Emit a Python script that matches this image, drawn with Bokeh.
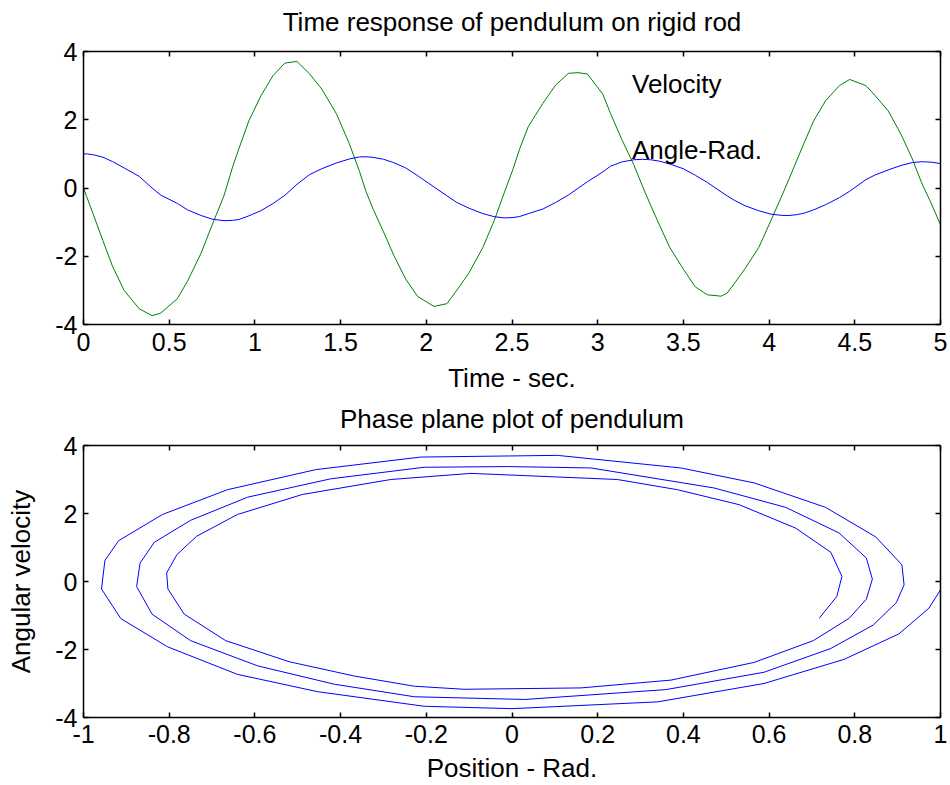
from bokeh.plotting import figure
from bokeh.layouts import column
from bokeh.models import Range1d, FixedTicker, LinearAxis, Label
from bokeh.embed import file_html
from bokeh.resources import INLINE

# ---- data (time, angle in rad, angular velocity) ----
time_s = [0.0, 0.018, 0.058, 0.113, 0.169, 0.237, 0.325, 0.40, 0.45, 0.548,
          0.607, 0.685, 0.75, 0.82, 0.87, 0.91, 0.965, 1.035, 1.105, 1.175,
          1.245, 1.32, 1.39, 1.475, 1.55, 1.61, 1.648, 1.69, 1.75, 1.81,
          1.88, 1.95, 2.045, 2.12, 2.175, 2.25, 2.33, 2.396, 2.454, 2.505,
          2.545, 2.595, 2.68, 2.755, 2.83, 2.885, 2.94, 3.03, 3.075, 3.14,
          3.21, 3.26, 3.31, 3.36, 3.42, 3.50, 3.57, 3.64, 3.72, 3.755,
          3.80, 3.86, 3.94, 4.01, 4.075, 4.115, 4.16, 4.205, 4.26, 4.33,
          4.41, 4.47, 4.565, 4.62, 4.695, 4.77, 4.835, 4.89, 4.945, 5.0]

angle_rad = [1.0, 1.0, 0.973, 0.903, 0.775, 0.588, 0.34, 0.0, -0.205, -0.454,
             -0.641, -0.804, -0.913, -0.958, -0.95, -0.918, -0.816, -0.664, -0.458, -0.213,
             0.106, 0.394, 0.565, 0.732, 0.849, 0.91, 0.915, 0.897, 0.843, 0.744,
             0.588, 0.359, 0.03, -0.228, -0.415, -0.594, -0.75, -0.84, -0.876, -0.868,
             -0.835, -0.75, -0.617, -0.423, -0.205, -0.01, 0.184, 0.472, 0.639, 0.763,
             0.827, 0.841, 0.827, 0.787, 0.703, 0.565, 0.371, 0.161, -0.112, -0.228,
             -0.368, -0.52, -0.668, -0.765, -0.803, -0.806, -0.782, -0.736, -0.641, -0.489,
             -0.283, -0.096, 0.246, 0.386, 0.53, 0.662, 0.744, 0.77, 0.758, 0.717]

velocity = [0.0, -0.245, -0.785, -1.54, -2.29, -3.0, -3.54, -3.74, -3.67, -3.24,
            -2.73, -1.92, -1.09, -0.22, 0.62, 1.2, 1.97, 2.7, 3.29, 3.66,
            3.71, 3.34, 2.9, 2.18, 1.31, 0.49, -0.1, -0.62, -1.28, -1.97,
            -2.67, -3.18, -3.47, -3.39, -3.02, -2.48, -1.74, -0.96, -0.15, 0.54,
            1.15, 1.8, 2.48, 3.02, 3.36, 3.38, 3.34, 2.75, 2.18, 1.43,
            0.69, 0.07, -0.52, -1.08, -1.74, -2.38, -2.9, -3.13, -3.17, -3.08,
            -2.78, -2.36, -1.74, -0.96, -0.22, 0.25, 0.79, 1.33, 1.97, 2.56,
            3.0, 3.18, 3.0, 2.7, 2.26, 1.57, 0.86, 0.15, -0.44, -1.08]

top_xticks = [0, 0.5, 1, 1.5, 2, 2.5, 3, 3.5, 4, 4.5, 5]
top_xlabels = ["0", "0.5", "1", "1.5", "2", "2.5", "3", "3.5", "4", "4.5", "5"]
bot_xticks = [-1, -0.8, -0.6, -0.4, -0.2, 0, 0.2, 0.4, 0.6, 0.8, 1]
bot_xlabels = ["-1", "-0.8", "-0.6", "-0.4", "-0.2", "0", "0.2", "0.4", "0.6", "0.8", "1"]
yticks = [-4, -2, 0, 2, 4]
ylabels = ["-4", "-2", "0", "2", "4"]

annotations = [("Velocity", 3.2, 3.05), ("Angle-Rad.", 3.2, 1.12)]

FONT = "Liberation Sans"
FS_TICK = "25px"
FS = "26px"


def style_axis(ax, ticks, labels=None, standoff=6):
    ax.ticker = FixedTicker(ticks=ticks)
    ax.major_tick_in = 5
    ax.major_tick_out = 0
    ax.minor_tick_line_color = None
    ax.axis_line_color = "black"
    ax.axis_line_width = 1.5
    ax.major_tick_line_color = "black"
    ax.major_tick_line_width = 1.5
    ax.axis_label_text_font = FONT
    ax.axis_label_text_font_size = FS
    ax.axis_label_text_font_style = "normal"
    ax.axis_label_text_color = "black"
    if labels is not None:
        ax.major_label_overrides = {t: l for t, l in zip(ticks, labels)}
        ax.major_label_text_font = FONT
        ax.major_label_text_font_size = FS_TICK
        ax.major_label_text_color = "black"
        ax.major_label_standoff = standoff
    else:
        ax.major_label_text_color = None
        ax.major_label_text_font_size = "1px"
        ax.major_label_standoff = 0


def make(xr, xticks, xlabels, title, title_standoff, top_border, frame_h,
         bottom_border, x_standoff):
    p = figure(frame_width=857, frame_height=frame_h,
               min_border_left=83, min_border_right=10,
               min_border_top=top_border, min_border_bottom=bottom_border,
               x_range=Range1d(*xr), y_range=Range1d(-4, 4),
               x_axis_location=None, y_axis_location=None,
               output_backend="svg", toolbar_location=None)
    p.xgrid.visible = False
    p.ygrid.visible = False
    p.outline_line_color = None
    p.background_fill_color = "white"
    p.border_fill_color = "white"

    bottom_ax = LinearAxis()
    style_axis(bottom_ax, xticks, xlabels, standoff=x_standoff)
    p.add_layout(bottom_ax, "below")
    left_ax = LinearAxis()
    style_axis(left_ax, yticks, ylabels)
    p.add_layout(left_ax, "left")
    # top axis of the box: ticks only, its label carries the plot title
    top_ax = LinearAxis(axis_label=title)
    style_axis(top_ax, xticks)
    top_ax.axis_label_standoff = title_standoff
    p.add_layout(top_ax, "above")
    right_ax = LinearAxis()
    style_axis(right_ax, yticks)
    p.add_layout(right_ax, "right")
    return p, bottom_ax, left_ax


p1, p1_bottom, p1_left = make((0, 5), top_xticks, top_xlabels,
                              "Time response of pendulum on rigid rod", 15,
                              51, 273, 71, 8)
p1_bottom.axis_label = "Time - sec."
p1_bottom.axis_label_standoff = 9
p1.line(time_s, velocity, line_color="#008000", line_width=1)
p1.line(time_s, angle_rad, line_color="#0000ff", line_width=1)
for txt, ax_x, ax_y in annotations:
    p1.add_layout(Label(x=ax_x, y=ax_y, text=txt, text_font=FONT, text_font_size=FS,
                        text_baseline="middle", text_align="left", text_color="black"))

p2, p2_bottom, p2_left = make((-1, 1), bot_xticks, bot_xlabels,
                              "Phase plane plot of pendulum", 12,
                              50, 272, 68, 7)
p2_bottom.axis_label = "Position - Rad."
p2_bottom.axis_label_standoff = 7
p2_left.axis_label = "Angular velocity"
p2_left.axis_label_standoff = 16
p2.line(angle_rad, velocity, line_color="#0000ff", line_width=1)

layout = column(p1, p2, spacing=0)
open("out.html", "w").write(file_html(layout, INLINE))
